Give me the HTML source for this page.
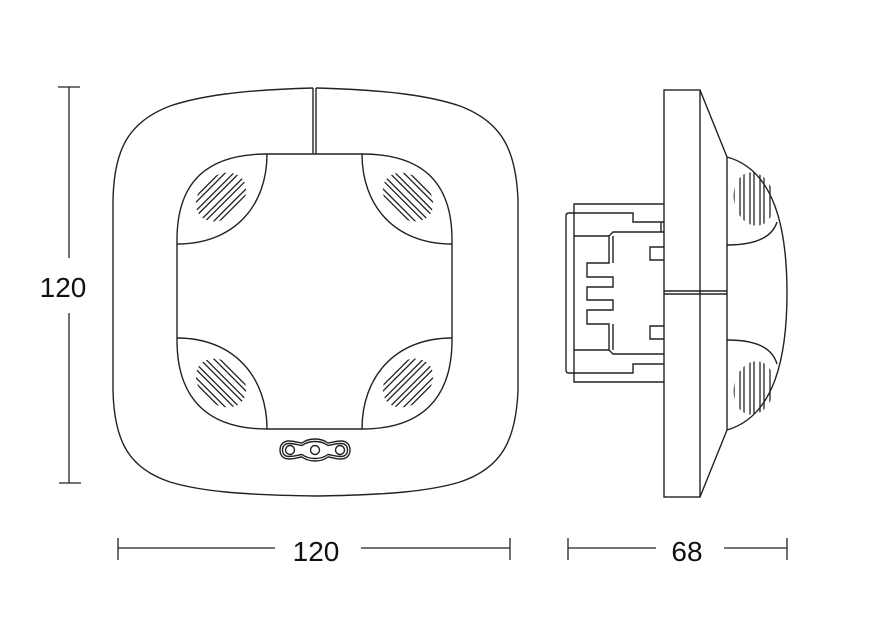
<!DOCTYPE html>
<html><head><style>html,body{margin:0;padding:0;background:#fff}svg{display:block}</style></head>
<body>
<svg width="878" height="627" viewBox="0 0 878 627" xmlns="http://www.w3.org/2000/svg">
<defs>
<clipPath id="cg"><ellipse cx="0" cy="0" rx="28" ry="21" transform="rotate(-42)"/></clipPath>
<g id="grille">
  <g clip-path="url(#cg)" fill="none" stroke="#222" stroke-width="1.3">
    <g transform="rotate(-45)">
      <rect x="-40" y="-24" width="80" height="6" rx="3"/>
      <rect x="-40" y="-14" width="80" height="6" rx="3"/>
      <rect x="-40" y="-4" width="80" height="6" rx="3"/>
      <rect x="-40" y="6" width="80" height="6" rx="3"/>
      <rect x="-40" y="16" width="80" height="6" rx="3"/>
    </g>
  </g>
</g>
</defs>
<g fill="none" stroke="#222" stroke-width="1.4">
<path d="M313,88 C240,90 200,96 170,106 C128,122 114,150 113,200 L113,390 C114,440 128,468 170,482 C200,491 240,495 315,496 C390,495 430,491 460,482 C502,468 516,440 518,390 L518,200 C516,150 502,122 460,106 C430,96 390,90 316,88"/>
<line x1="313" y1="88" x2="313" y2="154"/>
<line x1="316" y1="88" x2="316" y2="154"/>
<path d="M267,154 L362,154 C420,154 452,180 452,240 L452,340 C452,400 420,429 362,429 L267,429 C209,429 177,400 177,340 L177,240 C177,180 209,154 267,154 Z"/>
<path d="M267,154 C267,205 235,244 177,244"/>
<path d="M362,154 C362,205 394,244 452,244"/>
<path d="M177,338 C235,338 267,378 267,429"/>
<path d="M452,338 C394,338 362,378 362,429"/>
</g>
<use href="#grille" transform="translate(221,197)"/>
<use href="#grille" transform="translate(408,197) scale(-1,1)"/>
<use href="#grille" transform="translate(221,383) scale(1,-1)"/>
<use href="#grille" transform="translate(408,383) scale(-1,-1)"/>
<g fill="none" stroke="#222" stroke-width="1.4">
<path d="M289,441 C296,441 299,443 302,443 C306,440 310,439 315,439 C320,439 324,440 328,443 C331,443 334,441 341,441 C347,441 350,445 350,450 C350,455 347,459 341,459 C334,459 331,457 328,457 C324,460 320,461 315,461 C310,461 306,460 302,457 C299,457 296,459 289,459 C283,459 280,455 280,450 C280,445 283,441 289,441 Z"/>
<path d="M289,443.5 C295,443.5 298,445 302,445.5 C306,442.5 310,441.5 315,441.5 C320,441.5 324,442.5 328,445.5 C332,445 335,443.5 341,443.5 C345,443.5 347.5,446 347.5,450 C347.5,454 345,456.5 341,456.5 C335,456.5 332,455 328,454.5 C324,457.5 320,458.5 315,458.5 C310,458.5 306,457.5 302,454.5 C298,455 295,456.5 289,456.5 C285,456.5 282.5,454 282.5,450 C282.5,446 285,443.5 289,443.5 Z"/>
<circle cx="290" cy="450" r="4.5"/><circle cx="315" cy="450" r="4.5"/><circle cx="340" cy="450" r="4.5"/>
</g>
<g fill="none" stroke="#222" stroke-width="1.4">
<rect x="664" y="90" width="36" height="407"/>
<path d="M700,90 L727,157 L727,430 L700,497"/>
<line x1="664" y1="291" x2="727" y2="291"/>
<line x1="664" y1="294" x2="727" y2="294"/>
<path d="M727,157 C775,170 787,230 787,293 C787,356 775,416 727,430"/>
<path d="M727,245 C755,245 772,238 777,222"/>
<path d="M727,340 C755,340 772,347 777,364"/>
<path d="M664,204 L574,204 L574,382 L664,382"/>
<path d="M664,222 L633,222 L633,213 L569,213 Q566,213 566,216 L566,370 Q566,373 569,373 L633,373 L633,364 L664,364"/>
<line x1="574" y1="236" x2="609" y2="236"/>
<line x1="574" y1="350" x2="609" y2="350"/>
<line x1="661" y1="222" x2="661" y2="232"/>
<path d="M664,232 L613,232 L609,236 L609,263 L587,263 L587,277 L613,277 L613,287 L587,287 L587,300 L613,300 L613,310 L587,310 L587,324 L609,324 L609,350 L613,354 L664,354"/>
<line x1="613" y1="236" x2="613" y2="263"/>
<line x1="613" y1="324" x2="613" y2="350"/>
<path d="M664,247 L650,247 L650,260 L664,260"/>
<path d="M664,326 L650,326 L650,339 L664,339"/>
</g>
<!-- side grilles -->
<defs>
<clipPath id="sg1"><ellipse cx="754" cy="199" rx="20" ry="27" transform="rotate(-12 754 199)"/></clipPath>
<clipPath id="sg2"><ellipse cx="754" cy="388" rx="20" ry="27" transform="rotate(12 754 388)"/></clipPath>
</defs>
<g fill="none" stroke="#222" stroke-width="1.3">
<g clip-path="url(#sg1)">
<rect x="734" y="165" width="6" height="70" rx="3"/>
<rect x="744" y="165" width="6" height="70" rx="3"/>
<rect x="754" y="165" width="6" height="70" rx="3"/>
<rect x="764" y="165" width="6" height="70" rx="3"/>
</g>
<g clip-path="url(#sg2)">
<rect x="734" y="352" width="6" height="70" rx="3"/>
<rect x="744" y="352" width="6" height="70" rx="3"/>
<rect x="754" y="352" width="6" height="70" rx="3"/>
<rect x="764" y="352" width="6" height="70" rx="3"/>
</g>
</g>
<g stroke="#222" stroke-width="1.3">
<line x1="69" y1="87" x2="69" y2="258"/>
<line x1="69" y1="313" x2="69" y2="483"/>
<line x1="58" y1="87" x2="80" y2="87"/>
<line x1="59" y1="483" x2="81" y2="483"/>
<line x1="118" y1="548" x2="275" y2="548"/>
<line x1="361" y1="548" x2="510" y2="548"/>
<line x1="118" y1="538" x2="118" y2="560"/>
<line x1="510" y1="538" x2="510" y2="560"/>
<line x1="568" y1="548" x2="656" y2="548"/>
<line x1="724" y1="548" x2="787" y2="548"/>
<line x1="568" y1="538" x2="568" y2="560"/>
<line x1="787" y1="538" x2="787" y2="560"/>
</g>
<g font-family="Liberation Sans, sans-serif" font-size="28" fill="#111" text-anchor="middle">
<text x="63" y="297">120</text>
<text x="316" y="561">120</text>
<text x="687" y="561">68</text>
</g>
</svg>
</body></html>
